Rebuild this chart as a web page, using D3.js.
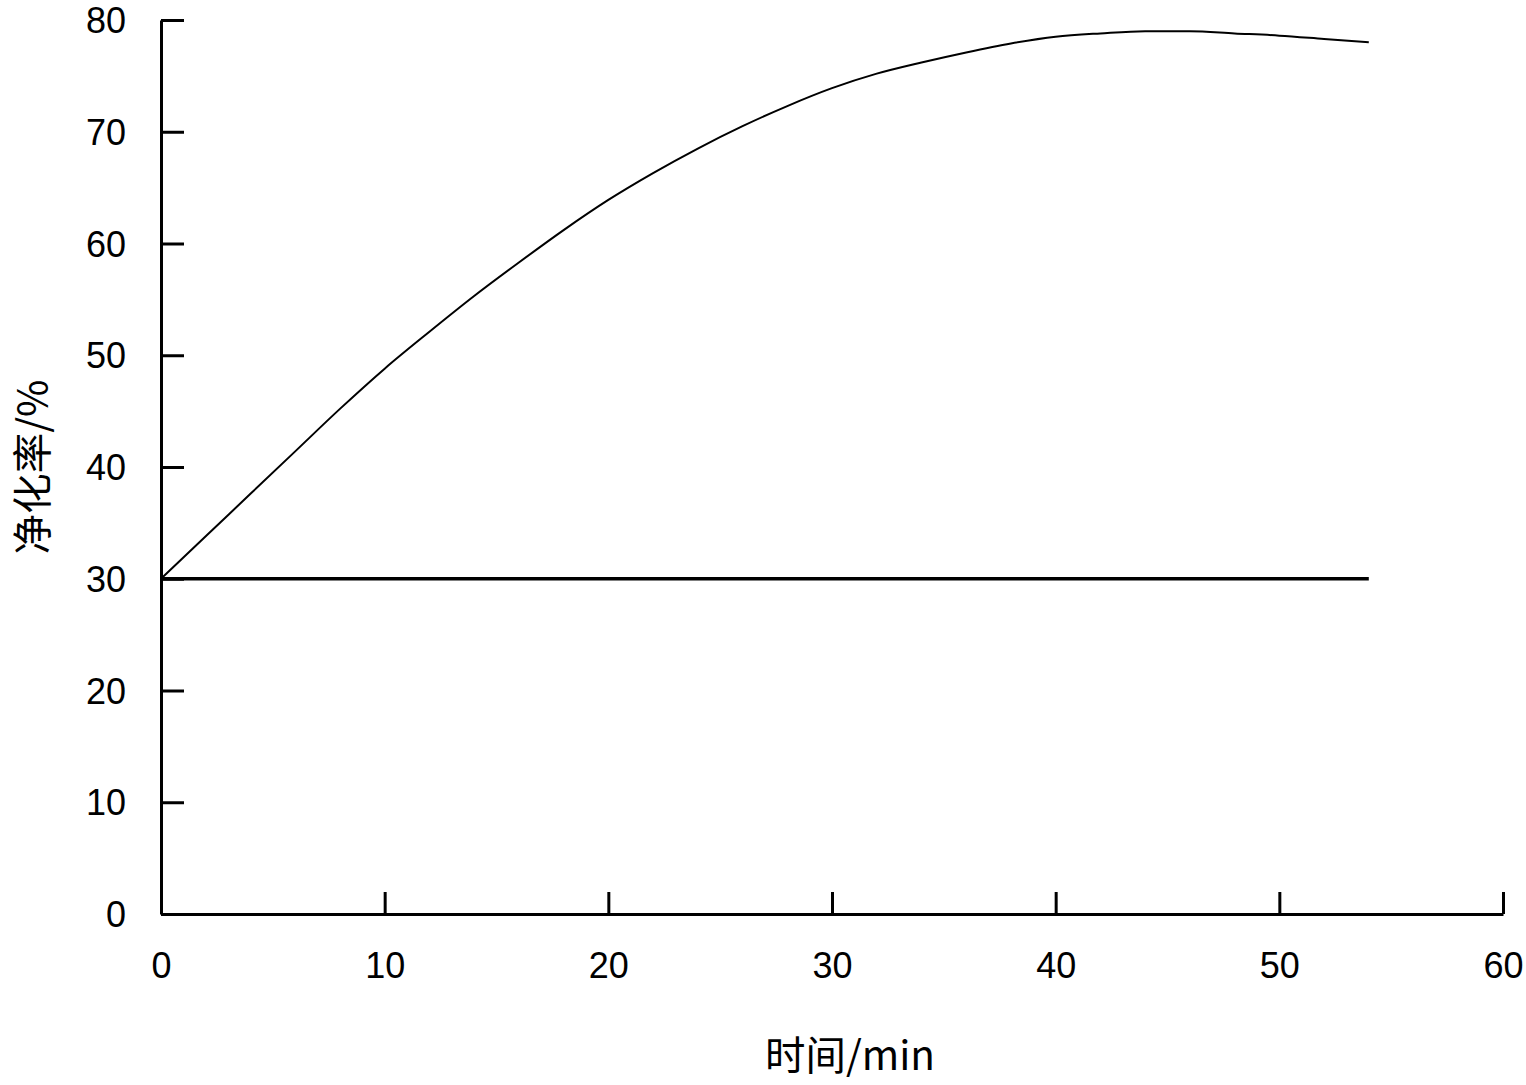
<!DOCTYPE html>
<html><head><meta charset="utf-8">
<script src="https://cdn.jsdelivr.net/npm/d3@7"></script>
<style>body{margin:0;background:#fff}</style>
</head><body>
<svg id="chart" width="1526" height="1085"></svg>
<script>
const times = [0,2,4,6,8,10,12,14,16,18,20,22,24,26,28,30,32,34,36,38,40,42,44,46,48,50,52,54];
const purification = [30,33.8,37.6,41.4,45.2,48.8,52.1,55.3,58.3,61.2,63.9,66.3,68.5,70.5,72.3,73.9,75.2,76.2,77.1,77.9,78.5,78.8,79.0,79.0,78.8,78.6,78.3,78.0];
const baselineTimes = [0,54];
const baselineValues = [30,30];
const xTicks = [0,10,20,30,40,50,60];
const yTicks = [0,10,20,30,40,50,60,70,80];
const xLabel = "时间/min";
const yLabel = "净化率/%";

const svg = d3.select("#chart");
const x = d3.scaleLinear().domain([0,60]).range([161,1503]);
const y = d3.scaleLinear().domain([0,80]).range([914,20]);
const font = "'Liberation Sans', Arial, sans-serif";

// axes
const xAxis = svg.append("g").attr("transform","translate(0,914)")
  .call(d3.axisBottom(x).tickValues(xTicks).tickSize(-22).tickPadding(38).tickSizeOuter(0));
const yAxis = svg.append("g").attr("transform","translate(161,0)")
  .call(d3.axisLeft(y).tickValues(yTicks).tickSize(-23).tickPadding(35).tickSizeOuter(0));
[xAxis,yAxis].forEach(a=>{
  a.select(".domain").attr("stroke","#000").attr("stroke-width",3);
  a.selectAll(".tick line").attr("stroke","#000").attr("stroke-width",3);
  a.selectAll(".tick text").attr("fill","#000").style("font-family",font).style("font-size","36px");
});
yAxis.selectAll(".tick text").attr("dy","0.35em");
xAxis.selectAll(".tick text").attr("dy","0.71em");

// baseline
const line = d3.line().x(d=>x(d[0])).y(d=>y(d[1]));
svg.append("path")
  .datum(baselineTimes.map((t,i)=>[t,baselineValues[i]]))
  .attr("d",line).attr("fill","none").attr("stroke","#000").attr("stroke-width",3.5);

// curve
const curve = d3.line().x(d=>x(d[0])).y(d=>y(d[1])).curve(d3.curveMonotoneX);
svg.append("path")
  .datum(times.map((t,i)=>[t,purification[i]]))
  .attr("d",curve).attr("fill","none").attr("stroke","#000").attr("stroke-width",2);

// axis titles
svg.append("text").attr("x",850).attr("y",1053).attr("text-anchor","middle")
  .attr("dominant-baseline","central")
  .attr("textLength",170).attr("lengthAdjust","spacingAndGlyphs")
  .style("font-family","'Noto Sans CJK SC', sans-serif").style("font-size","40px")
  .attr("fill","#000").text(xLabel);
svg.append("text").attr("transform","translate(30,467) rotate(-90)").attr("text-anchor","middle")
  .attr("dominant-baseline","central")
  .attr("textLength",175).attr("lengthAdjust","spacingAndGlyphs")
  .style("font-family","'Noto Sans CJK SC', sans-serif").style("font-size","40px")
  .attr("fill","#000").text(yLabel);
</script>
</body></html>
